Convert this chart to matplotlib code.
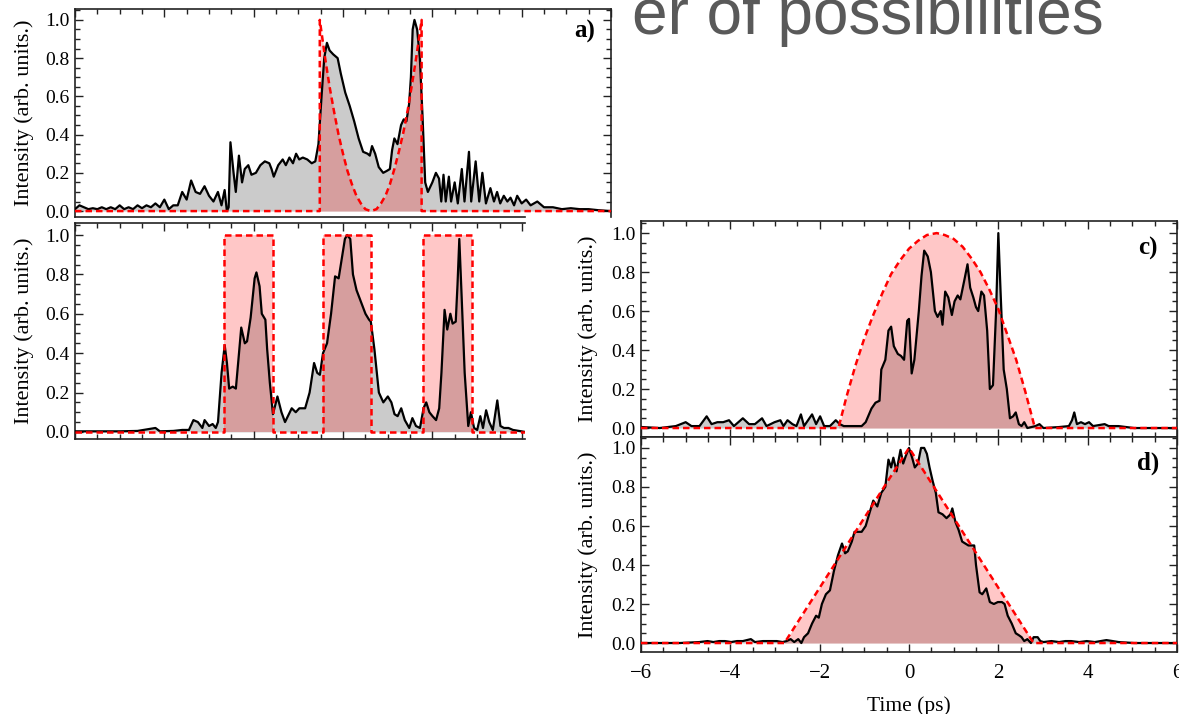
import matplotlib
matplotlib.use('Agg')
import matplotlib.pyplot as plt
from matplotlib.ticker import MultipleLocator, FormatStrFormatter, NullFormatter

plt.rcParams['font.family'] = ['Liberation Serif', 'DejaVu Serif']

# ---------------- data (time in ps, intensity in arb. units) ----------------
# panel a) measured intensity
a_t = [-6.0, -5.9, -5.8, -5.7, -5.6, -5.5, -5.4, -5.3, -5.2, -5.1, -5.0, -4.9, -4.8, -4.7,
       -4.6, -4.5, -4.4, -4.3, -4.2, -4.1, -4.0, -3.9, -3.8, -3.7, -3.6, -3.5, -3.4, -3.3,
       -3.2, -3.1, -3.0, -2.9, -2.8, -2.72, -2.65, -2.6, -2.56, -2.52, -2.45, -2.4, -2.33,
       -2.26, -2.2, -2.12, -2.05, -1.95, -1.85, -1.75, -1.65, -1.6, -1.55, -1.45, -1.35,
       -1.28, -1.2, -1.12, -1.05, -0.98, -0.9, -0.8, -0.7, -0.62, -0.55, -0.48, -0.42,
       -0.36, -0.3, -0.22, -0.12, -0.05, 0.05, 0.15, 0.25, 0.35, 0.45, 0.55, 0.6, 0.65,
       0.72, 0.8, 0.9, 0.98, 1.05, 1.1, 1.15, 1.22, 1.3, 1.36, 1.42, 1.48, 1.52, 1.56, 1.6,
       1.66, 1.72, 1.78, 1.84, 1.9, 2.0, 2.08, 2.15, 2.2, 2.25, 2.3, 2.37, 2.42, 2.5, 2.57,
       2.66, 2.72, 2.82, 2.87, 2.97, 3.05, 3.12, 3.2, 3.3, 3.38, 3.45, 3.52, 3.6, 3.68,
       3.75, 3.83, 3.9, 4.0, 4.1, 4.2, 4.35, 4.5, 4.7, 4.9, 5.1, 5.3, 5.5, 5.7, 6.0]
a_v = [0.01, 0.03, 0.02, 0.01, 0.015, 0.01, 0.02, 0.01, 0.02, 0.01, 0.03, 0.01, 0.02, 0.01,
       0.03, 0.015, 0.03, 0.02, 0.04, 0.02, 0.06, 0.01, 0.03, 0.03, 0.1, 0.06, 0.16, 0.1,
       0.09, 0.13, 0.08, 0.05, 0.1, 0.03, 0.11, 0.0, 0.02, 0.36, 0.2, 0.1, 0.29,
       0.15, 0.22, 0.24, 0.19, 0.2, 0.24, 0.26, 0.25, 0.22, 0.18, 0.24, 0.27,
       0.24, 0.28, 0.25, 0.3, 0.27, 0.28, 0.27, 0.25, 0.26, 0.35, 0.6, 0.8,
       0.88, 0.84, 0.82, 0.8, 0.72, 0.62, 0.55, 0.47, 0.38, 0.31, 0.3, 0.29, 0.34,
       0.3, 0.23, 0.2, 0.21, 0.22, 0.32, 0.38, 0.35, 0.45, 0.48, 0.47, 0.56, 0.7, 0.95, 1.0,
       0.95, 0.8, 0.5, 0.15, 0.1, 0.15, 0.2, 0.17, 0.05, 0.19, 0.05, 0.18, 0.05, 0.15, 0.04,
       0.22, 0.05, 0.31, 0.05, 0.26, 0.05, 0.2, 0.04, 0.12, 0.05, 0.1, 0.04, 0.08, 0.05,
       0.07, 0.03, 0.08, 0.04, 0.06, 0.03, 0.05, 0.02, 0.02, 0.01, 0.015, 0.01, 0.01, 0.005, 0.0]
# panel a) target (red dashed)
a_red_t = [-6.0, -0.52, -0.52, -0.4, -0.3, -0.2, -0.1, 0.0, 0.1, 0.2, 0.3, 0.4, 0.5, 0.62,
           0.75, 0.85, 0.95, 1.05, 1.15, 1.25, 1.35, 1.45, 1.55, 1.65, 1.76, 1.76, 6.0]
a_red_v = [0.0, 0.0, 1.0, 0.8, 0.65, 0.52, 0.4, 0.3, 0.21, 0.14, 0.08, 0.04, 0.01, 0.0,
           0.01, 0.04, 0.08, 0.14, 0.22, 0.31, 0.41, 0.53, 0.67, 0.82, 1.0, 0.0, 0.0]

# panel b) measured intensity
b_t = [-6.0, -5.0, -4.6, -4.2, -4.1, -3.8, -3.6, -3.45, -3.35, -3.25, -3.15, -3.1, -3.0,
       -2.92, -2.85, -2.8, -2.72, -2.65, -2.6, -2.55, -2.47, -2.4, -2.33, -2.28, -2.2,
       -2.15, -2.07, -1.98, -1.94, -1.87, -1.82, -1.74, -1.7, -1.64, -1.57, -1.47, -1.38,
       -1.3, -1.15, -1.06, -0.98, -0.85, -0.75, -0.65, -0.58, -0.52, -0.45, -0.36, -0.27,
       -0.18, -0.1, -0.03, 0.04, 0.09, 0.16, 0.22, 0.3, 0.4, 0.5, 0.58, 0.62, 0.7, 0.8, 0.9,
       1.0, 1.08, 1.15, 1.22, 1.3, 1.38, 1.48, 1.55, 1.63, 1.72, 1.8, 1.86, 1.93, 2.0, 2.08,
       2.15, 2.2, 2.27, 2.33, 2.4, 2.45, 2.52, 2.56, 2.6, 2.65, 2.72, 2.8, 2.86, 2.93, 3.0,
       3.07, 3.13, 3.2, 3.27, 3.35, 3.45, 3.52, 3.6, 3.7, 3.8, 4.07]
b_v = [0.003, 0.003, 0.005, 0.02, 0.003, 0.005, 0.01, 0.01, 0.06, 0.05, 0.02, 0.06, 0.03,
       0.04, 0.02, 0.05, 0.3, 0.44, 0.35, 0.22, 0.23, 0.22, 0.4, 0.53, 0.45,
       0.46, 0.58, 0.78, 0.81, 0.74, 0.6, 0.57, 0.42, 0.25, 0.09, 0.18, 0.1,
       0.05, 0.12, 0.1, 0.12, 0.12, 0.2, 0.35, 0.3, 0.29, 0.4, 0.45, 0.6,
       0.79, 0.78, 0.88, 0.98, 1.0, 0.98, 0.8, 0.72, 0.66, 0.6, 0.57, 0.56, 0.42, 0.2, 0.15,
       0.18, 0.15, 0.09, 0.08, 0.12, 0.06, 0.02, 0.07, 0.03, 0.02, 0.12, 0.15, 0.1, 0.08, 0.06,
       0.12, 0.3, 0.62, 0.52, 0.6, 0.55, 0.56, 0.75, 0.98, 0.7, 0.3, 0.03, 0.1, 0.02, 0.01,
       0.08, 0.02, 0.11, 0.05, 0.01, 0.16, 0.03, 0.02, 0.02, 0.01, 0.0]
# panel b) target windows (red dashed)
b_red_t = [-6.0, -2.67, -2.67, -1.58, -1.58, -0.44, -0.44, 0.62, 0.62, 1.78, 1.78, 2.89, 2.89, 4.07]
b_red_v = [0.0, 0.0, 1.0, 1.0, 0.0, 0.0, 1.0, 1.0, 0.0, 0.0, 1.0, 1.0, 0.0, 0.0]

# panel c) measured intensity
c_t = [-5.97, -5.58, -5.22, -5.0, -4.87, -4.69, -4.53, -4.42, -4.29, -4.16, -4.03, -3.92,
       -3.72, -3.58, -3.45, -3.29, -3.19, -3.01, -2.88, -2.81, -2.72, -2.61, -2.52, -2.42,
       -2.35, -2.17, -2.08, -1.99, -1.9, -1.77, -1.64, -1.55, -1.46, -1.24, -1.06, -0.97,
       -0.84, -0.75, -0.66, -0.62, -0.53, -0.46, -0.4, -0.34, -0.25, -0.18, -0.11, -0.04,
       0.0, 0.06, 0.12, 0.22, 0.28, 0.34, 0.42, 0.49, 0.58, 0.64, 0.71, 0.75, 0.81, 0.88,
       0.96, 1.02, 1.09, 1.15, 1.24, 1.31, 1.37, 1.44, 1.5, 1.55, 1.62, 1.68, 1.75, 1.81,
       1.88, 1.95, 2.0, 2.05, 2.12, 2.19, 2.26, 2.33, 2.39, 2.46, 2.52, 2.58, 2.65, 2.83,
       2.92, 3.01, 3.36, 3.58, 3.65, 3.7, 3.76, 3.85, 3.94, 4.03, 4.12, 4.38, 4.47, 4.69,
       5.04, 6.0]
c_v = [0.005, 0.0, 0.01, 0.03, 0.01, 0.01, 0.06, 0.02, 0.03, 0.03, 0.04, 0.01,
       0.05, 0.02, 0.02, 0.05, 0.01, 0.03, 0.04, 0.01, 0.04, 0.02, 0.01, 0.07,
       0.01, 0.07, 0.02, 0.06, 0.01, 0.01, 0.04, 0.02, 0.01, 0.01, 0.01, 0.03,
       0.1, 0.13, 0.14, 0.3, 0.35, 0.5, 0.52, 0.42, 0.38, 0.37, 0.35, 0.55,
       0.56, 0.28, 0.35, 0.6, 0.78, 0.91, 0.88, 0.8, 0.6, 0.57, 0.6, 0.53, 0.7, 0.67,
       0.58, 0.65, 0.68, 0.66, 0.76, 0.84, 0.72, 0.67, 0.62, 0.6, 0.7, 0.68, 0.5, 0.2,
       0.22, 0.6, 1.0, 0.7, 0.3, 0.2, 0.05, 0.06, 0.08, 0.02, 0.01, 0.03, 0.0, 0.01,
       0.02, 0.0, 0.005, 0.01, 0.04, 0.08, 0.02, 0.03, 0.02, 0.03, 0.01, 0.02, 0.01, 0.01,
       0.0, 0.0]
# panel c) target (red dashed)
c_red_t = [-6.0, -1.58, -1.4, -1.2, -1.0, -0.8, -0.6, -0.4, -0.2, 0.0, 0.2, 0.4, 0.62, 0.8,
           1.0, 1.2, 1.4, 1.6, 1.8, 2.0, 2.2, 2.4, 2.6, 2.82, 6.0]
c_red_v = [0.0, 0.0, 0.16, 0.32, 0.46, 0.58, 0.69, 0.79, 0.86, 0.92, 0.96, 0.99, 1.0, 0.99,
           0.97, 0.93, 0.87, 0.8, 0.71, 0.61, 0.48, 0.35, 0.19, 0.0, 0.0]

# panel d) measured intensity
d_t = [-5.97, -5.13, -4.69, -4.51, -4.38, -4.25, -4.12, -3.98, -3.85, -3.72, -3.54, -3.45,
       -3.27, -3.1, -2.96, -2.83, -2.74, -2.65, -2.57, -2.48, -2.41, -2.35, -2.26, -2.17,
       -2.08, -2.02, -1.95, -1.86, -1.77, -1.68, -1.59, -1.5, -1.43, -1.37, -1.28, -1.22,
       -1.13, -1.06, -0.97, -0.88, -0.8, -0.71, -0.62, -0.53, -0.46, -0.4, -0.35, -0.28,
       -0.19, -0.13, -0.07, 0.0, 0.07, 0.13, 0.2, 0.27, 0.34, 0.4, 0.46, 0.53, 0.6, 0.66,
       0.75, 0.84, 0.93, 0.97, 1.04, 1.11, 1.19, 1.33, 1.46, 1.5, 1.58, 1.64, 1.73, 1.81,
       1.9, 1.99, 2.08, 2.14, 2.21, 2.3, 2.39, 2.46, 2.52, 2.58, 2.65, 2.73, 2.79, 2.88,
       2.94, 3.01, 3.19, 3.36, 3.5, 3.63, 3.81, 3.98, 4.16, 4.29, 4.42, 4.56, 4.69, 5.04, 6.0]
d_v = [0.0, 0.0, 0.005, 0.01, 0.005, 0.01, 0.01, 0.005, 0.01, 0.01, 0.02, 0.005,
       0.01, 0.01, 0.01, 0.005, 0.01, 0.02, 0.005, 0.02, 0.0, 0.03, 0.05, 0.1,
       0.14, 0.13, 0.2, 0.25, 0.27, 0.37, 0.45, 0.51, 0.46, 0.47, 0.52, 0.57,
       0.57, 0.57, 0.6, 0.67, 0.73, 0.7, 0.77, 0.8, 0.94, 0.9, 0.95, 0.88,
       0.99, 0.92, 0.96, 1.0, 0.95, 0.9, 0.92, 1.0, 1.0, 0.97, 0.9, 0.83, 0.77, 0.67,
       0.66, 0.64, 0.66, 0.69, 0.62, 0.58, 0.52, 0.5, 0.5, 0.4, 0.26, 0.25, 0.28, 0.21,
       0.2, 0.21, 0.21, 0.2, 0.14, 0.1, 0.05, 0.04, 0.03, 0.01, 0.02, 0.0, 0.03, 0.03,
       0.01, 0.005, 0.01, 0.005, 0.01, 0.01, 0.005, 0.01, 0.005, 0.01, 0.015, 0.01, 0.005, 0.0, 0.0]
# panel d) target (red dashed)
d_red_t = [-6.0, -2.79, 0.0, 2.79, 6.0]
d_red_v = [0.0, 0.0, 1.0, 0.0, 0.0]

ytick_vals = [0.0, 0.2, 0.4, 0.6, 0.8, 1.0]
xtick_vals = [-6, -4, -2, 0, 2, 4, 6]
panel_labels = ['a)', 'c)', 'd)']
ylabel_text = 'Intensity (arb. units.)'
xlabel_text = 'Time (ps)'
slide_text = 'er of possibilities'

# ---------------- figure ----------------
W, H = 1179, 714
fig = plt.figure(figsize=(W / 100, H / 100), dpi=100)


def rect(x0, y0, x1, y1):
    return [x0 / W, 1 - y1 / H, (x1 - x0) / W, (y1 - y0) / H]


GRAY = '#cbcbcb'
PINK_ALPHA = 0.22


def panel(ax, t, v, rt, rv, xlim, ylim):
    ax.fill_between(t, 0, v, color=GRAY, lw=0, zorder=1)
    ax.fill_between(rt, 0, rv, color='red', alpha=PINK_ALPHA, lw=0, zorder=2)
    ax.plot(t, v, color='black', lw=1.6, zorder=3)
    ax.plot(rt, rv, color='red', lw=1.8, ls=(0, (2.6, 1.6)), zorder=4)
    ax.set_yticks(ytick_vals)
    ax.yaxis.set_major_formatter(FormatStrFormatter('%.1f'))
    ax.yaxis.set_minor_locator(MultipleLocator(0.05))
    ax.set_xticks(xtick_vals)
    ax.xaxis.set_minor_locator(MultipleLocator(0.5))
    ax.set_xlim(*xlim)
    ax.set_ylim(*ylim)
    ax.tick_params(which='both', direction='in', top=True, right=True,
                   labelsize=14, width=1.0, color='#222222', pad=4)
    ax.tick_params(which='major', length=6)
    ax.tick_params(which='minor', length=3.5)
    for s in ax.spines.values():
        s.set_linewidth(1.2)
        s.set_color('#222222')
    ax.set_ylabel(ylabel_text, fontsize=16)


ax_a = fig.add_axes(rect(75, 9, 611, 217))
panel(ax_a, a_t, a_v, a_red_t, a_red_v, (-6, 6), (-0.031, 1.057))
ax_a.xaxis.set_major_formatter(NullFormatter())
ax_a.tick_params(which='both', bottom=False)
ax_a.spines['bottom'].set_bounds(-6, 4.07)
ax_a.yaxis.set_label_coords(-0.077, 0.5)
ax_a.text(0.951, 0.89, panel_labels[0], transform=ax_a.transAxes, fontsize=18,
          fontweight='bold', ha='center', va='center')

ax_b = fig.add_axes(rect(75, 223, 525, 439))
panel(ax_b, b_t, b_v, b_red_t, b_red_v, (-6, 4.07), (-0.036, 1.061))
ax_b.xaxis.set_major_formatter(NullFormatter())
ax_b.spines['right'].set_visible(False)
ax_b.tick_params(which='both', right=False)
ax_b.yaxis.set_label_coords(-0.092, 0.5)

ax_c = fig.add_axes(rect(641, 221, 1177, 437))
panel(ax_c, c_t, c_v, c_red_t, c_red_v, (-6, 6), (-0.046, 1.062))
ax_c.xaxis.set_major_formatter(NullFormatter())
ax_c.yaxis.set_label_coords(-0.081, 0.5)
ax_c.text(0.946, 0.875, panel_labels[1], transform=ax_c.transAxes, fontsize=18,
          fontweight='bold', ha='center', va='center')

ax_d = fig.add_axes(rect(641, 437, 1177, 652))
panel(ax_d, d_t, d_v, d_red_t, d_red_v, (-6, 6), (-0.046, 1.056))
ax_d.tick_params(axis='x', which='major', pad=9, labelsize=15)
ax_d.yaxis.set_label_coords(-0.081, 0.5)
ax_d.set_xlabel(xlabel_text, fontsize=15.5, labelpad=9)
ax_d.text(0.946, 0.879, panel_labels[2], transform=ax_d.transAxes, fontsize=18,
          fontweight='bold', ha='center', va='center')

fig.text(632 / W, 1 - 34 / H, slide_text, fontsize=46, color='#595959',
         family=['Liberation Sans', 'DejaVu Sans'], ha='left', va='baseline')

fig.savefig('out.png', dpi=100)
